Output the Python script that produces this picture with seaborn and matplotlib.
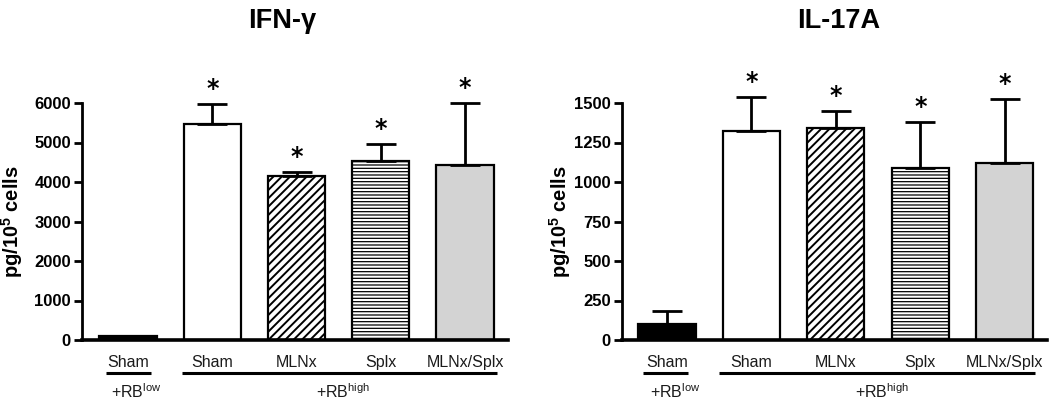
import numpy as np
import pandas as pd
import matplotlib
matplotlib.use("Agg")
import matplotlib.pyplot as plt
import seaborn as sns

# ---- data ----
keys = ["Sham_low", "Sham_high", "MLNx", "Splx", "MLNx/Splx"]
tick_labels = ["Sham", "Sham", "MLNx", "Splx", "MLNx/Splx"]
ifn_mean = [100, 5480, 4150, 4540, 4440]
ifn_err = [0, 490, 100, 410, 1560]
il17_mean = [100, 1325, 1340, 1090, 1120]
il17_err = [85, 210, 110, 290, 405]
ifn_sig = [False, True, True, True, True]
il17_sig = [False, True, True, True, True]
titles = ["IFN-γ", "IL-17A"]
ylabel = "pg/10$^{5}$ cells"
group_labels = ["+RB$^{low}$", "+RB$^{high}$"]
ifn_ticks = [0, 1000, 2000, 3000, 4000, 5000, 6000]
il17_ticks = [0, 250, 500, 750, 1000, 1250, 1500]

sns.set_style("ticks")
plt.rcParams["font.family"] = ["Liberation Sans", "DejaVu Sans"]
plt.rcParams["mathtext.default"] = "regular"
plt.rcParams["hatch.linewidth"] = 1.4
for k in ["text.color", "axes.labelcolor", "xtick.color", "ytick.color", "axes.edgecolor"]:
    plt.rcParams[k] = "black"

fills = ["black", "white", "white", "white", "#d3d3d3"]
hatches = [None, None, "////", "-----", None]

W, H = 1050, 407
fig = plt.figure(figsize=(W / 100, H / 100), dpi=100)
ax1 = fig.add_axes([82 / W, 67 / H, 426 / W, 237 / H])
ax2 = fig.add_axes([622 / W, 67 / H, 425 / W, 237 / H])


def panel(ax, means, errs, sig, ticks, xlim, lines, grp_x, title, title_x, ylab_x):
    df = pd.DataFrame({"grp": keys, "val": means})
    sns.barplot(data=df, x="grp", y="val", hue="grp", order=keys, hue_order=keys,
                palette=dict(zip(keys, fills)), width=0.68, edgecolor="black",
                linewidth=1.6, legend=False, errorbar=None, saturation=1, ax=ax)
    for p, h in zip(ax.patches, hatches):
        if h:
            p.set_hatch(h)
            if h == "-----":
                try:
                    p.set_hatch_linewidth(0.9)
                except Exception:
                    pass
    x = np.arange(len(keys))
    ax.errorbar(x, means, yerr=[np.zeros(len(errs)), errs], fmt="none",
                ecolor="black", elinewidth=2, capsize=10.8, capthick=2,
                zorder=5, clip_on=False)
    for xi, m, e, s in zip(x, means, errs, sig):
        if s:
            ax.annotate("*", (xi, m + e), xytext=(0, 6), textcoords="offset points",
                        ha="center", va="baseline", fontsize=17, fontweight="bold",
                        family="DejaVu Sans", annotation_clip=False)
    ax.set_xlim(*xlim)
    ax.set_ylim(ticks[0], ticks[-1])
    ax.set_yticks(ticks)
    ax.set_yticklabels([str(t) for t in ticks], fontsize=12, fontweight="bold")
    ax.set_xticks([])
    ax.set_xlabel("")
    ax.set_ylabel(ylabel, fontsize=14.5, fontweight="bold")
    ax.yaxis.set_label_coords(ylab_x, 0.5)
    ax.tick_params(axis="y", direction="out", length=6, width=2, pad=2)
    for s in ["top", "right"]:
        ax.spines[s].set_visible(False)
    ax.spines["left"].set_linewidth(2)
    ax.spines["bottom"].set_linewidth(2.6)
    trans = ax.get_xaxis_transform()
    for xi, lab in zip(x, tick_labels):
        ax.text(xi, -0.112, lab, transform=trans, ha="center", va="baseline",
                fontsize=11.5, color="#1a1a1a")
    for (a, b) in lines:
        ax.plot([a, b], [-0.139, -0.139], transform=trans, color="black",
                lw=2.2, clip_on=False, solid_capstyle="butt")
    for gx, gl in zip(grp_x, group_labels):
        ax.text(gx, -0.245, gl, transform=trans, ha="center", va="baseline",
                fontsize=11.5, color="#1a1a1a")
    fig.text(title_x / W, 1 - 28 / H, title, ha="center", va="baseline",
             fontsize=19.5, fontweight="bold")


panel(ax1, ifn_mean, ifn_err, ifn_sig, ifn_ticks, (-0.546, 4.51),
      [(-0.26, 0.27), (0.64, 4.38)], [0.1, 2.55], titles[0], 282, -0.134)
panel(ax2, il17_mean, il17_err, il17_sig, il17_ticks, (-0.53, 4.5),
      [(-0.28, 0.25), (0.62, 4.36)], [0.1, 2.55], titles[1], 839, -0.115)

fig.savefig("out.png", dpi=100, facecolor="white")
